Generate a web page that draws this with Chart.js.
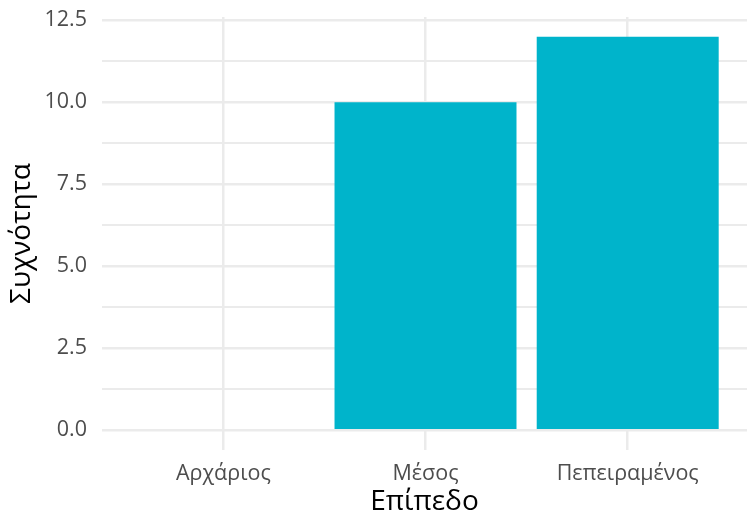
<!DOCTYPE html>
<html>
<head>
<meta charset="utf-8">
<script src="https://cdn.jsdelivr.net/npm/chart.js@4/dist/chart.umd.min.js"></script>
<style>
  html, body { margin: 0; padding: 0; background: #fff; }
  #wrap { width: 747px; height: 517px; }
</style>
</head>
<body>
<div id="wrap"><canvas id="chart"></canvas></div>
<script>
const categories = ['Αρχάριος', 'Μέσος', 'Πεπειραμένος'];
const counts = [0, 10, 12];
const yTicks = [0, 1.25, 2.5, 3.75, 5, 6.25, 7.5, 8.75, 10, 11.25, 12.5];

const font = '"Open Sans", sans-serif';

new Chart(document.getElementById('chart'), {
    type: 'bar',
    data: {
        datasets: [{
            data: categories.map((c, i) => ({ x: i + 1, y: counts[i] })),
            backgroundColor: '#00B4CB',
            borderWidth: 0,
            barPercentage: 0.9,
            categoryPercentage: 1
        }]
    },
    options: {
        responsive: true,
        maintainAspectRatio: false,
        animation: false,
        layout: { padding: { top: 17, right: 0, left: 0, bottom: 0 } },
        plugins: {
            legend: { display: false },
            tooltip: { enabled: false }
        },
        scales: {
            x: {
                type: 'linear',
                offset: false,
                min: 0.4,
                max: 3.59,
                afterBuildTicks: axis => {
                    axis.ticks = categories.map((c, i) => ({ value: i + 1 }));
                },
                afterFit: axis => {
                    axis.height = 67;
                    axis.paddingLeft = 0;
                    axis.paddingRight = 0;
                },
                ticks: {
                    callback: v => categories[v - 1],
                    color: '#4D4D4D',
                    font: { family: font, size: 21.5 },
                    padding: 11,
                    maxRotation: 0,
                    autoSkip: false
                },
                grid: { color: '#EBEBEB', lineWidth: 2.5, drawTicks: false, offset: false },
                border: { display: false },
                title: {
                    display: true,
                    text: 'Επίπεδο',
                    color: '#000',
                    font: { family: font, size: 28 },
                    padding: { top: 0, bottom: -2 }
                }
            },
            y: {
                min: -0.6,
                max: 12.6,
                afterBuildTicks: axis => {
                    axis.ticks = yTicks.map(v => ({ value: v }));
                },
                afterFit: axis => {
                    axis.width = 102;
                    axis.paddingTop = 0;
                    axis.paddingBottom = 0;
                },
                ticks: {
                    callback: v => (v % 2.5 === 0 ? v.toFixed(1) : ''),
                    color: '#4D4D4D',
                    font: { family: font, size: 21.5 },
                    padding: 15
                },
                grid: {
                    color: '#EBEBEB',
                    lineWidth: ctx => (ctx.tick && ctx.tick.value % 2.5 === 0 ? 2.5 : 2),
                    drawTicks: false
                },
                border: { display: false },
                title: {
                    display: true,
                    text: 'Συχνότητα',
                    color: '#000',
                    font: { family: font, size: 28 },
                    padding: { top: 5, bottom: 0 }
                }
            }
        }
    }
});
</script>
</body>
</html>
